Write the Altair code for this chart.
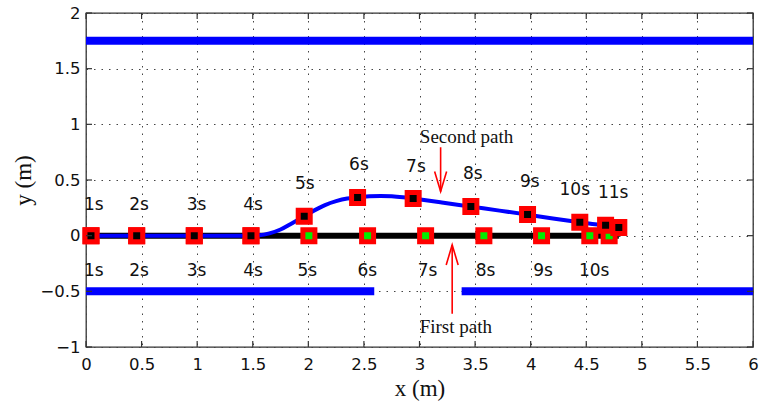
import altair as alt
import pandas as pd

# ---------------- data ----------------
tick_x = [0, 0.5, 1, 1.5, 2, 2.5, 3, 3.5, 4, 4.5, 5, 5.5, 6]
tick_y = [-1, -0.5, 0, 0.5, 1, 1.5, 2]

# walls (blue thick lines)
wall_x0 = [0, 0, 3.379]
wall_x1 = [6, 2.593, 6]
wall_y = [1.75, -0.5, -0.5]

# second path curve (blue)
curve_x = [0.045, 0.456, 0.974, 1.484, 1.56, 1.65, 1.75, 1.85, 1.963, 2.05, 2.15,
           2.25, 2.35, 2.443, 2.55, 2.65, 2.75, 2.85, 2.943, 3.2, 3.462, 3.72,
           3.972, 4.2, 4.442, 4.6, 4.674, 4.793]
curve_y = [0, 0, 0, 0, 0.003, 0.02, 0.055, 0.11, 0.175, 0.225, 0.275,
           0.31, 0.333, 0.342, 0.353, 0.357, 0.354, 0.345, 0.333, 0.298, 0.261, 0.225,
           0.189, 0.155, 0.121, 0.1, 0.094, 0.073]

# first path line (black)
first_line_x = [0.045, 4.793]
first_line_y = [0, 0]

# markers
second_x = [0.045, 0.456, 0.974, 1.484, 1.963, 2.443, 2.943, 3.462, 3.972, 4.442, 4.674, 4.793]
second_y = [0, 0, 0, 0, 0.175, 0.342, 0.333, 0.261, 0.189, 0.121, 0.094, 0.073]
first_x = [0.045, 0.456, 0.974, 1.484, 2.005, 2.533, 3.055, 3.579, 4.098, 4.532, 4.706]
first_y = [0, 0, 0, 0, 0, 0, 0, 0, 0, 0, 0]

# time labels
second_labels = ["1s", "2s", "3s", "4s", "5s", "6s", "7s", "8s", "9s", "10s", "11s"]
second_label_x = [0.07, 0.477, 0.995, 1.502, 1.969, 2.455, 2.968, 3.48, 3.993, 4.397, 4.742]
second_label_y = [0.276, 0.276, 0.276, 0.276, 0.462, 0.636, 0.620, 0.552, 0.48, 0.411, 0.381]
first_labels = ["1s", "2s", "3s", "4s", "5s", "6s", "7s", "8s", "9s", "10s"]
first_label_x = [0.07, 0.477, 0.995, 1.502, 1.99, 2.53, 3.073, 3.594, 4.112, 4.571]
first_label_y = [-0.313] * 10

# annotations
annot_text = ["Second path", "First path"]
annot_x = [3.423, 3.327]
annot_y = [0.89, -0.816]
arrow_x = [3.19, 3.294]
arrow_y0 = [0.794, -0.702]
arrow_y1 = [0.396, -0.083]
arrow_dir = ["down", "up"]

# ---------------- chart ----------------
W, H = 667, 334
xs = alt.Scale(domain=[0, 6], nice=False, zero=False)
ys = alt.Scale(domain=[-1, 2], nice=False, zero=False)
xaxis = alt.Axis(values=tick_x, format="~g", title="x (m)", labelPadding=9,
                 titlePadding=5, labelFlush=False)
yaxis = alt.Axis(values=tick_y, format="~g", title="y (m)", labelPadding=6,
                 titlePadding=4)


def X(f):
    return alt.X(f, type="quantitative", scale=xs, axis=xaxis)


def Y(f):
    return alt.Y(f, type="quantitative", scale=ys, axis=yaxis)


walls = pd.DataFrame({"x0": wall_x0, "x1": wall_x1, "y": wall_y})
curve = pd.DataFrame({"x": curve_x, "y": curve_y})
fline = pd.DataFrame({"x": first_line_x, "y": first_line_y})
sec = pd.DataFrame({"x": second_x, "y": second_y})
fst = pd.DataFrame({"x": first_x, "y": first_y})
slab = pd.DataFrame({"x": second_label_x, "y": second_label_y, "t": second_labels})
flab = pd.DataFrame({"x": first_label_x, "y": first_label_y, "t": first_labels})
ann = pd.DataFrame({"x": annot_x, "y": annot_y, "t": annot_text})
arr = pd.DataFrame({"x": arrow_x, "y0": arrow_y0, "y1": arrow_y1, "d": arrow_dir})
txd = pd.DataFrame({"v": tick_x})
tyd = pd.DataFrame({"v": tick_y})

wall_layer = alt.Chart(walls).mark_rule(color="#0000ff", strokeWidth=8).encode(
    x=X("x0"), x2="x1", y=Y("y"))
black_line = alt.Chart(fline).mark_line(color="black", strokeWidth=6).encode(
    x=X("x"), y=Y("y"))
green_marks = alt.Chart(fst).mark_square(
    fill="#00ee00", stroke="#ff0000", strokeWidth=5, size=144, opacity=1).encode(
    x=X("x"), y=Y("y"))
blue_curve = alt.Chart(curve).mark_line(color="#0000ff", strokeWidth=4,
                                        interpolate="monotone").encode(
    x=X("x"), y=Y("y"))
black_marks = alt.Chart(sec).mark_square(
    fill="black", stroke="#ff0000", strokeWidth=5, size=144, opacity=1).encode(
    x=X("x"), y=Y("y"))
slab_layer = alt.Chart(slab).mark_text(font="DejaVu Sans", fontSize=17, color="#111",
                                       baseline="middle", align="center").encode(
    x=X("x"), y=Y("y"), text="t")
flab_layer = alt.Chart(flab).mark_text(font="DejaVu Sans", fontSize=17, color="#111",
                                       baseline="middle", align="center").encode(
    x=X("x"), y=Y("y"), text="t")
ann_layer = alt.Chart(ann).mark_text(font="Liberation Serif", fontSize=19, color="#111",
                                     baseline="middle", align="center").encode(
    x=X("x"), y=Y("y"), text="t")
arrow_shaft = alt.Chart(arr).mark_rule(color="#ff0000", strokeWidth=1.6).encode(
    x=X("x"), y=Y("y0"), y2="y1")
arrow_down = alt.Chart(arr).transform_filter(alt.datum.d == "down").mark_point(
    shape="M-0.3,-1L0,0L0.3,-1", size=1600, filled=False, color="#ff0000",
    strokeWidth=1.6, opacity=1).encode(x=X("x"), y=Y("y1"))
arrow_up = alt.Chart(arr).transform_filter(alt.datum.d == "up").mark_point(
    shape="M-0.3,1L0,0L0.3,1", size=1600, filled=False, color="#ff0000",
    strokeWidth=1.6, opacity=1).encode(x=X("x"), y=Y("y1"))

tick_color = "#333"
ticks_bottom = alt.Chart(txd).mark_rule(color=tick_color, strokeWidth=1.2).encode(
    x=X("v"), y=alt.value(H), y2=alt.value(H - 6))
ticks_top = alt.Chart(txd).mark_rule(color=tick_color, strokeWidth=1.2).encode(
    x=X("v"), y=alt.value(0), y2=alt.value(6))
ticks_left = alt.Chart(tyd).mark_rule(color=tick_color, strokeWidth=1.2).encode(
    y=Y("v"), x=alt.value(0), x2=alt.value(6))
ticks_right = alt.Chart(tyd).mark_rule(color=tick_color, strokeWidth=1.2).encode(
    y=Y("v"), x=alt.value(W), x2=alt.value(W - 6))

chart = alt.layer(
    wall_layer, black_line, green_marks, blue_curve, black_marks,
    slab_layer, flab_layer, ann_layer, arrow_shaft, arrow_down, arrow_up,
    ticks_bottom, ticks_top, ticks_left, ticks_right,
).properties(
    width=W, height=H,
    autosize=alt.AutoSizeParams(type="none"),
    padding={"left": 86, "top": 13, "right": 7, "bottom": 57},
    background="white",
).configure_axis(
    labelFont="DejaVu Sans", labelFontSize=16.5, labelColor="#111",
    titleFont="Liberation Serif", titleFontSize=23, titleFontWeight="normal",
    titleColor="#111",
    domain=False, ticks=False, tickSize=0,
    grid=True, gridDash=[1.5, 6], gridColor="#444", gridWidth=1, gridOpacity=1,
).configure_view(stroke="#333", strokeWidth=1.3)

chart.save("out.html", embed_options={"renderer": "svg", "actions": False})
